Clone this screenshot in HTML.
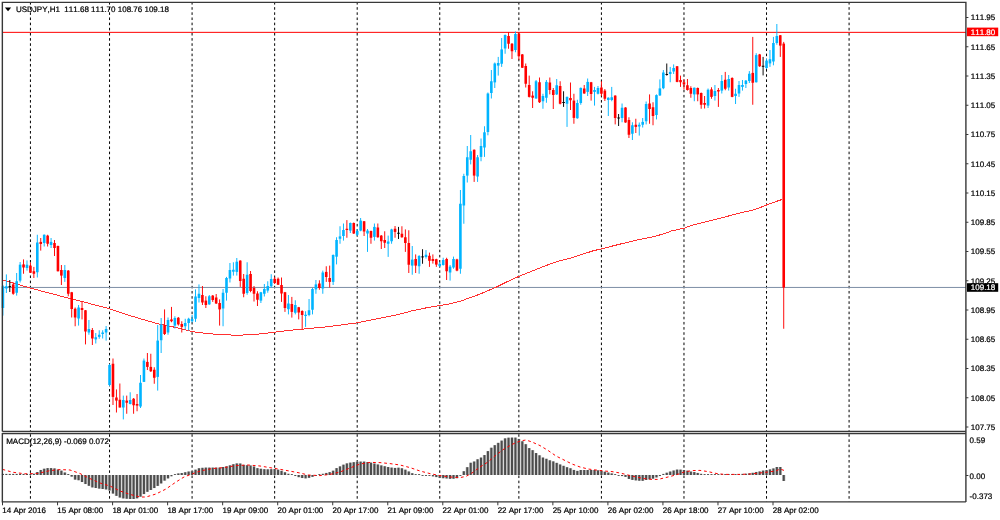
<!DOCTYPE html>
<html lang="en"><head><meta charset="utf-8"><title>USDJPY,H1</title>
<style>html,body{margin:0;padding:0;background:#fff;overflow:hidden}svg{display:block}text{font-family:"Liberation Sans",sans-serif;fill:#000;stroke:#000;stroke-width:0.22px;text-rendering:geometricPrecision;font-kerning:none}</style>
</head><body>
<svg width="1000" height="520" viewBox="0 0 1000 520">
<rect x="0" y="0" width="1000" height="520" fill="#ffffff"/>
<g stroke="#000" stroke-width="1" stroke-dasharray="2.58 2.58" fill="none">
<line x1="30.43" y1="2.0" x2="30.43" y2="431"/>
<line x1="30.43" y1="434.2" x2="30.43" y2="501.5"/>
<line x1="109.54" y1="2.0" x2="109.54" y2="431"/>
<line x1="109.54" y1="434.2" x2="109.54" y2="501.5"/>
<line x1="192.09" y1="2.0" x2="192.09" y2="431"/>
<line x1="192.09" y1="434.2" x2="192.09" y2="501.5"/>
<line x1="274.65" y1="2.0" x2="274.65" y2="431"/>
<line x1="274.65" y1="434.2" x2="274.65" y2="501.5"/>
<line x1="357.20" y1="2.0" x2="357.20" y2="431"/>
<line x1="357.20" y1="434.2" x2="357.20" y2="501.5"/>
<line x1="439.75" y1="2.0" x2="439.75" y2="431"/>
<line x1="439.75" y1="434.2" x2="439.75" y2="501.5"/>
<line x1="518.87" y1="2.0" x2="518.87" y2="431"/>
<line x1="518.87" y1="434.2" x2="518.87" y2="501.5"/>
<line x1="601.42" y1="2.0" x2="601.42" y2="431"/>
<line x1="601.42" y1="434.2" x2="601.42" y2="501.5"/>
<line x1="683.97" y1="2.0" x2="683.97" y2="431"/>
<line x1="683.97" y1="434.2" x2="683.97" y2="501.5"/>
<line x1="766.52" y1="2.0" x2="766.52" y2="431"/>
<line x1="766.52" y1="434.2" x2="766.52" y2="501.5"/>
<line x1="849.08" y1="2.0" x2="849.08" y2="431"/>
<line x1="849.08" y1="434.2" x2="849.08" y2="501.5"/>
</g>
<line x1="2.5" y1="32.35" x2="966" y2="32.35" stroke="#FF0000" stroke-width="1"/>
<line x1="2.5" y1="287.45" x2="966" y2="287.45" stroke="#7D8EA5" stroke-width="1"/>
<polyline points="2.0,279.7 30.4,288.1 60.0,295.9 85.0,302.3 109.6,308.8 125.0,314.1 145.0,320.1 160.0,324.3 170.0,326.2 185.0,329.7 192.2,331.6 205.0,333.3 220.0,334.7 238.0,335.2 252.0,334.7 262.0,333.7 274.5,332.2 290.0,330.3 302.0,329.2 329.0,326.6 357.2,322.8 380.0,318.3 400.0,314.1 412.5,310.7 425.0,308.1 439.8,305.6 450.0,303.8 460.0,301.3 470.0,297.7 480.0,294.1 487.5,290.9 496.2,287.2 506.2,282.2 518.8,276.4 532.5,270.9 545.0,265.9 557.5,261.4 570.0,258.3 582.5,254.3 592.5,251.0 601.5,248.8 613.8,245.7 626.2,242.6 635.0,240.4 645.0,238.5 655.0,236.3 665.5,233.3 671.5,230.9 683.8,228.3 692.5,225.2 707.5,221.3 722.5,217.6 737.5,213.6 752.5,210.1 760.0,207.6 766.8,204.9 775.0,201.9 782.0,199.5" fill="none" stroke="#FF3030" stroke-width="1" stroke-linejoin="round" shape-rendering="crispEdges"/>
<rect x="2.44" y="285.00" width="0.95" height="30.60" fill="#00B4FF"/>
<rect x="1.61" y="286.25" width="2.6" height="21.75" fill="#00B4FF"/>
<rect x="5.87" y="274.40" width="0.95" height="18.60" fill="#00B4FF"/>
<rect x="5.05" y="286.25" width="2.6" height="2.25" fill="#00B4FF"/>
<rect x="9.31" y="280.00" width="0.95" height="12.00" fill="#000000"/>
<rect x="8.49" y="286.00" width="2.6" height="0.90" fill="#000000"/>
<rect x="12.75" y="282.25" width="0.95" height="12.50" fill="#FF0000"/>
<rect x="11.93" y="284.40" width="2.6" height="9.35" fill="#FF0000"/>
<rect x="16.19" y="273.00" width="0.95" height="22.60" fill="#00B4FF"/>
<rect x="15.37" y="281.25" width="2.6" height="11.50" fill="#00B4FF"/>
<rect x="19.63" y="262.00" width="0.95" height="20.50" fill="#00B4FF"/>
<rect x="18.81" y="264.70" width="2.6" height="15.90" fill="#00B4FF"/>
<rect x="23.07" y="259.40" width="0.95" height="14.35" fill="#FF0000"/>
<rect x="22.25" y="264.40" width="2.6" height="3.10" fill="#FF0000"/>
<rect x="26.51" y="260.40" width="0.95" height="10.20" fill="#00B4FF"/>
<rect x="25.69" y="264.75" width="2.6" height="3.25" fill="#00B4FF"/>
<rect x="29.95" y="262.50" width="0.95" height="10.50" fill="#FF0000"/>
<rect x="29.13" y="265.60" width="2.6" height="7.15" fill="#FF0000"/>
<rect x="33.39" y="266.90" width="0.95" height="11.10" fill="#FF0000"/>
<rect x="32.57" y="271.25" width="2.6" height="2.50" fill="#FF0000"/>
<rect x="36.83" y="234.75" width="0.95" height="42.75" fill="#00B4FF"/>
<rect x="36.01" y="242.50" width="2.6" height="29.75" fill="#00B4FF"/>
<rect x="40.27" y="238.00" width="0.95" height="12.60" fill="#FF0000"/>
<rect x="39.45" y="241.90" width="2.6" height="2.10" fill="#FF0000"/>
<rect x="43.71" y="234.40" width="0.95" height="12.10" fill="#00B4FF"/>
<rect x="42.89" y="234.75" width="2.6" height="8.25" fill="#00B4FF"/>
<rect x="47.15" y="234.75" width="0.95" height="11.75" fill="#FF0000"/>
<rect x="46.33" y="235.60" width="2.6" height="8.15" fill="#FF0000"/>
<rect x="50.59" y="238.00" width="0.95" height="10.00" fill="#00B4FF"/>
<rect x="49.77" y="241.90" width="2.6" height="3.10" fill="#00B4FF"/>
<rect x="54.03" y="240.00" width="0.95" height="16.00" fill="#FF0000"/>
<rect x="53.21" y="243.00" width="2.6" height="5.00" fill="#FF0000"/>
<rect x="57.47" y="245.60" width="0.95" height="25.90" fill="#FF0000"/>
<rect x="56.65" y="246.00" width="2.6" height="25.25" fill="#FF0000"/>
<rect x="60.91" y="265.00" width="0.95" height="20.00" fill="#FF0000"/>
<rect x="60.08" y="270.00" width="2.6" height="5.60" fill="#FF0000"/>
<rect x="64.35" y="265.00" width="0.95" height="16.90" fill="#00B4FF"/>
<rect x="63.52" y="270.00" width="2.6" height="8.00" fill="#00B4FF"/>
<rect x="67.79" y="270.00" width="0.95" height="26.25" fill="#FF0000"/>
<rect x="66.96" y="270.60" width="2.6" height="23.15" fill="#FF0000"/>
<rect x="71.23" y="291.90" width="0.95" height="25.60" fill="#FF0000"/>
<rect x="70.40" y="292.25" width="2.6" height="16.75" fill="#FF0000"/>
<rect x="74.67" y="307.50" width="0.95" height="18.75" fill="#FF0000"/>
<rect x="73.84" y="308.75" width="2.6" height="8.75" fill="#FF0000"/>
<rect x="78.11" y="305.00" width="0.95" height="20.60" fill="#00B4FF"/>
<rect x="77.28" y="307.50" width="2.6" height="11.00" fill="#00B4FF"/>
<rect x="81.55" y="301.25" width="0.95" height="18.15" fill="#FF0000"/>
<rect x="80.72" y="308.00" width="2.6" height="2.00" fill="#FF0000"/>
<rect x="84.99" y="310.00" width="0.95" height="34.40" fill="#FF0000"/>
<rect x="84.16" y="310.25" width="2.6" height="21.25" fill="#FF0000"/>
<rect x="88.43" y="320.00" width="0.95" height="14.75" fill="#00B4FF"/>
<rect x="87.60" y="329.00" width="2.6" height="3.50" fill="#00B4FF"/>
<rect x="91.87" y="328.00" width="0.95" height="17.00" fill="#FF0000"/>
<rect x="91.04" y="330.00" width="2.6" height="8.50" fill="#FF0000"/>
<rect x="95.31" y="333.00" width="0.95" height="10.50" fill="#00B4FF"/>
<rect x="94.48" y="337.25" width="2.6" height="2.15" fill="#00B4FF"/>
<rect x="98.75" y="330.25" width="0.95" height="8.50" fill="#00B4FF"/>
<rect x="97.92" y="334.75" width="2.6" height="2.15" fill="#00B4FF"/>
<rect x="102.19" y="330.25" width="0.95" height="8.25" fill="#00B4FF"/>
<rect x="101.36" y="332.50" width="2.6" height="1.50" fill="#00B4FF"/>
<rect x="105.63" y="326.00" width="0.95" height="14.60" fill="#00B4FF"/>
<rect x="104.80" y="329.00" width="2.6" height="3.50" fill="#00B4FF"/>
<rect x="109.07" y="364.00" width="0.95" height="22.00" fill="#00B4FF"/>
<rect x="108.24" y="365.00" width="2.6" height="20.00" fill="#00B4FF"/>
<rect x="112.51" y="358.50" width="0.95" height="46.50" fill="#FF0000"/>
<rect x="111.68" y="363.75" width="2.6" height="33.15" fill="#FF0000"/>
<rect x="115.95" y="389.40" width="0.95" height="23.10" fill="#FF0000"/>
<rect x="115.12" y="397.50" width="2.6" height="3.10" fill="#FF0000"/>
<rect x="119.38" y="383.50" width="0.95" height="24.00" fill="#FF0000"/>
<rect x="118.56" y="399.75" width="2.6" height="7.75" fill="#FF0000"/>
<rect x="122.82" y="395.60" width="0.95" height="23.80" fill="#00B4FF"/>
<rect x="122.00" y="400.00" width="2.6" height="7.50" fill="#00B4FF"/>
<rect x="126.26" y="395.60" width="0.95" height="18.15" fill="#FF0000"/>
<rect x="125.44" y="400.60" width="2.6" height="2.15" fill="#FF0000"/>
<rect x="129.70" y="392.25" width="0.95" height="12.15" fill="#00B4FF"/>
<rect x="128.88" y="400.00" width="2.6" height="4.00" fill="#00B4FF"/>
<rect x="133.14" y="398.00" width="0.95" height="15.75" fill="#FF0000"/>
<rect x="132.32" y="398.75" width="2.6" height="6.50" fill="#FF0000"/>
<rect x="136.58" y="394.00" width="0.95" height="17.25" fill="#FF0000"/>
<rect x="135.76" y="404.00" width="2.6" height="1.60" fill="#FF0000"/>
<rect x="140.02" y="375.00" width="0.95" height="33.00" fill="#00B4FF"/>
<rect x="139.20" y="382.75" width="2.6" height="23.75" fill="#00B4FF"/>
<rect x="143.46" y="358.50" width="0.95" height="23.40" fill="#00B4FF"/>
<rect x="142.64" y="360.60" width="2.6" height="21.30" fill="#00B4FF"/>
<rect x="146.90" y="353.00" width="0.95" height="17.00" fill="#FF0000"/>
<rect x="146.08" y="361.90" width="2.6" height="5.00" fill="#FF0000"/>
<rect x="150.34" y="353.75" width="0.95" height="18.25" fill="#FF0000"/>
<rect x="149.52" y="366.90" width="2.6" height="4.35" fill="#FF0000"/>
<rect x="153.78" y="367.25" width="0.95" height="16.50" fill="#FF0000"/>
<rect x="152.96" y="369.75" width="2.6" height="8.00" fill="#FF0000"/>
<rect x="157.22" y="325.00" width="0.95" height="65.60" fill="#00B4FF"/>
<rect x="156.40" y="340.60" width="2.6" height="36.30" fill="#00B4FF"/>
<rect x="160.66" y="318.00" width="0.95" height="35.00" fill="#00B4FF"/>
<rect x="159.84" y="324.40" width="2.6" height="15.85" fill="#00B4FF"/>
<rect x="164.10" y="309.40" width="0.95" height="25.60" fill="#FF0000"/>
<rect x="163.28" y="325.00" width="2.6" height="9.00" fill="#FF0000"/>
<rect x="167.54" y="317.50" width="0.95" height="17.25" fill="#00B4FF"/>
<rect x="166.72" y="320.00" width="2.6" height="12.50" fill="#00B4FF"/>
<rect x="170.98" y="306.90" width="0.95" height="15.35" fill="#FF0000"/>
<rect x="170.16" y="319.40" width="2.6" height="1.85" fill="#FF0000"/>
<rect x="174.42" y="316.25" width="0.95" height="12.25" fill="#00B4FF"/>
<rect x="173.59" y="318.00" width="2.6" height="7.60" fill="#00B4FF"/>
<rect x="177.86" y="317.00" width="0.95" height="8.60" fill="#FF0000"/>
<rect x="177.03" y="317.75" width="2.6" height="6.65" fill="#FF0000"/>
<rect x="181.30" y="321.25" width="0.95" height="11.25" fill="#FF0000"/>
<rect x="180.47" y="324.00" width="2.6" height="2.90" fill="#FF0000"/>
<rect x="184.74" y="318.75" width="0.95" height="10.65" fill="#00B4FF"/>
<rect x="183.91" y="323.00" width="2.6" height="3.25" fill="#00B4FF"/>
<rect x="188.18" y="317.75" width="0.95" height="12.85" fill="#00B4FF"/>
<rect x="187.35" y="318.75" width="2.6" height="4.25" fill="#00B4FF"/>
<rect x="191.62" y="315.00" width="0.95" height="7.50" fill="#00B4FF"/>
<rect x="190.79" y="319.00" width="2.6" height="2.25" fill="#00B4FF"/>
<rect x="195.06" y="289.40" width="0.95" height="32.50" fill="#00B4FF"/>
<rect x="194.23" y="296.50" width="2.6" height="22.25" fill="#00B4FF"/>
<rect x="198.50" y="284.40" width="0.95" height="18.10" fill="#00B4FF"/>
<rect x="197.67" y="293.75" width="2.6" height="4.25" fill="#00B4FF"/>
<rect x="201.94" y="286.00" width="0.95" height="19.00" fill="#FF0000"/>
<rect x="201.11" y="295.00" width="2.6" height="7.50" fill="#FF0000"/>
<rect x="205.38" y="296.25" width="0.95" height="11.75" fill="#FF0000"/>
<rect x="204.55" y="300.60" width="2.6" height="4.40" fill="#FF0000"/>
<rect x="208.82" y="295.00" width="0.95" height="9.75" fill="#00B4FF"/>
<rect x="207.99" y="296.25" width="2.6" height="8.15" fill="#00B4FF"/>
<rect x="212.26" y="295.00" width="0.95" height="6.90" fill="#FF0000"/>
<rect x="211.43" y="295.60" width="2.6" height="4.40" fill="#FF0000"/>
<rect x="215.70" y="294.00" width="0.95" height="10.00" fill="#FF0000"/>
<rect x="214.87" y="297.50" width="2.6" height="6.00" fill="#FF0000"/>
<rect x="219.14" y="299.40" width="0.95" height="26.20" fill="#FF0000"/>
<rect x="218.31" y="303.00" width="2.6" height="6.40" fill="#FF0000"/>
<rect x="222.58" y="289.00" width="0.95" height="37.25" fill="#00B4FF"/>
<rect x="221.75" y="292.75" width="2.6" height="15.75" fill="#00B4FF"/>
<rect x="226.02" y="276.90" width="0.95" height="23.70" fill="#00B4FF"/>
<rect x="225.19" y="278.00" width="2.6" height="14.75" fill="#00B4FF"/>
<rect x="229.46" y="263.00" width="0.95" height="19.50" fill="#00B4FF"/>
<rect x="228.63" y="270.00" width="2.6" height="8.50" fill="#00B4FF"/>
<rect x="232.89" y="262.25" width="0.95" height="13.35" fill="#00B4FF"/>
<rect x="232.07" y="269.75" width="2.6" height="1.95" fill="#00B4FF"/>
<rect x="236.33" y="258.00" width="0.95" height="17.60" fill="#00B4FF"/>
<rect x="235.51" y="261.70" width="2.6" height="10.20" fill="#00B4FF"/>
<rect x="239.77" y="260.25" width="0.95" height="26.65" fill="#FF0000"/>
<rect x="238.95" y="260.60" width="2.6" height="20.40" fill="#FF0000"/>
<rect x="243.21" y="274.00" width="0.95" height="23.25" fill="#FF0000"/>
<rect x="242.39" y="278.75" width="2.6" height="15.00" fill="#FF0000"/>
<rect x="246.65" y="262.25" width="0.95" height="32.50" fill="#00B4FF"/>
<rect x="245.83" y="274.75" width="2.6" height="18.25" fill="#00B4FF"/>
<rect x="250.09" y="271.00" width="0.95" height="21.25" fill="#FF0000"/>
<rect x="249.27" y="274.00" width="2.6" height="17.00" fill="#FF0000"/>
<rect x="253.53" y="286.00" width="0.95" height="15.50" fill="#FF0000"/>
<rect x="252.71" y="288.00" width="2.6" height="5.75" fill="#FF0000"/>
<rect x="256.97" y="291.25" width="0.95" height="14.75" fill="#FF0000"/>
<rect x="256.15" y="293.50" width="2.6" height="6.25" fill="#FF0000"/>
<rect x="260.41" y="291.90" width="0.95" height="11.10" fill="#00B4FF"/>
<rect x="259.59" y="292.25" width="2.6" height="8.35" fill="#00B4FF"/>
<rect x="263.85" y="284.00" width="0.95" height="12.50" fill="#00B4FF"/>
<rect x="263.03" y="289.00" width="2.6" height="4.75" fill="#00B4FF"/>
<rect x="267.29" y="281.25" width="0.95" height="11.50" fill="#00B4FF"/>
<rect x="266.47" y="286.00" width="2.6" height="4.60" fill="#00B4FF"/>
<rect x="270.73" y="274.20" width="0.95" height="13.55" fill="#00B4FF"/>
<rect x="269.91" y="279.00" width="2.6" height="7.25" fill="#00B4FF"/>
<rect x="274.17" y="276.90" width="0.95" height="7.10" fill="#FF0000"/>
<rect x="273.35" y="278.75" width="2.6" height="4.25" fill="#FF0000"/>
<rect x="277.61" y="277.50" width="0.95" height="7.50" fill="#FF0000"/>
<rect x="276.79" y="278.75" width="2.6" height="6.00" fill="#FF0000"/>
<rect x="281.05" y="277.50" width="0.95" height="24.40" fill="#FF0000"/>
<rect x="280.23" y="285.00" width="2.6" height="8.50" fill="#FF0000"/>
<rect x="284.49" y="291.90" width="0.95" height="20.00" fill="#FF0000"/>
<rect x="283.67" y="292.25" width="2.6" height="15.75" fill="#FF0000"/>
<rect x="287.93" y="295.00" width="0.95" height="19.40" fill="#00B4FF"/>
<rect x="287.11" y="303.50" width="2.6" height="5.70" fill="#00B4FF"/>
<rect x="291.37" y="296.90" width="0.95" height="20.70" fill="#FF0000"/>
<rect x="290.54" y="304.00" width="2.6" height="7.90" fill="#FF0000"/>
<rect x="294.81" y="300.25" width="0.95" height="14.15" fill="#00B4FF"/>
<rect x="293.98" y="305.00" width="2.6" height="7.75" fill="#00B4FF"/>
<rect x="298.25" y="306.90" width="0.95" height="12.50" fill="#FF0000"/>
<rect x="297.42" y="307.25" width="2.6" height="5.25" fill="#FF0000"/>
<rect x="301.69" y="310.25" width="0.95" height="19.15" fill="#FF0000"/>
<rect x="300.86" y="311.00" width="2.6" height="4.00" fill="#FF0000"/>
<rect x="305.13" y="311.25" width="0.95" height="15.65" fill="#00B4FF"/>
<rect x="304.30" y="314.75" width="2.6" height="1.25" fill="#00B4FF"/>
<rect x="308.57" y="299.00" width="0.95" height="17.25" fill="#00B4FF"/>
<rect x="307.74" y="310.25" width="2.6" height="4.75" fill="#00B4FF"/>
<rect x="312.01" y="288.00" width="0.95" height="26.40" fill="#00B4FF"/>
<rect x="311.18" y="289.00" width="2.6" height="20.75" fill="#00B4FF"/>
<rect x="315.45" y="280.00" width="0.95" height="13.75" fill="#00B4FF"/>
<rect x="314.62" y="284.40" width="2.6" height="5.00" fill="#00B4FF"/>
<rect x="318.89" y="280.25" width="0.95" height="9.50" fill="#FF0000"/>
<rect x="318.06" y="283.50" width="2.6" height="4.50" fill="#FF0000"/>
<rect x="322.33" y="270.60" width="0.95" height="23.15" fill="#00B4FF"/>
<rect x="321.50" y="272.50" width="2.6" height="16.00" fill="#00B4FF"/>
<rect x="325.77" y="266.25" width="0.95" height="15.65" fill="#FF0000"/>
<rect x="324.94" y="271.90" width="2.6" height="5.10" fill="#FF0000"/>
<rect x="329.21" y="265.60" width="0.95" height="21.90" fill="#FF0000"/>
<rect x="328.38" y="278.00" width="2.6" height="3.90" fill="#FF0000"/>
<rect x="332.65" y="254.40" width="0.95" height="30.60" fill="#00B4FF"/>
<rect x="331.82" y="255.00" width="2.6" height="26.90" fill="#00B4FF"/>
<rect x="336.09" y="237.25" width="0.95" height="27.15" fill="#00B4FF"/>
<rect x="335.26" y="240.00" width="2.6" height="16.70" fill="#00B4FF"/>
<rect x="339.53" y="226.25" width="0.95" height="17.50" fill="#00B4FF"/>
<rect x="338.70" y="236.40" width="2.6" height="2.35" fill="#00B4FF"/>
<rect x="342.97" y="223.50" width="0.95" height="17.10" fill="#00B4FF"/>
<rect x="342.14" y="230.00" width="2.6" height="6.00" fill="#00B4FF"/>
<rect x="346.41" y="220.10" width="0.95" height="17.65" fill="#FF0000"/>
<rect x="345.58" y="228.75" width="2.6" height="1.25" fill="#FF0000"/>
<rect x="349.84" y="222.50" width="0.95" height="10.50" fill="#00B4FF"/>
<rect x="349.02" y="223.00" width="2.6" height="7.60" fill="#00B4FF"/>
<rect x="353.28" y="222.50" width="0.95" height="11.50" fill="#FF0000"/>
<rect x="352.46" y="223.00" width="2.6" height="10.50" fill="#FF0000"/>
<rect x="356.72" y="229.00" width="0.95" height="7.00" fill="#00B4FF"/>
<rect x="355.90" y="231.00" width="2.6" height="3.75" fill="#00B4FF"/>
<rect x="360.16" y="218.00" width="0.95" height="13.25" fill="#00B4FF"/>
<rect x="359.34" y="220.60" width="2.6" height="10.00" fill="#00B4FF"/>
<rect x="363.60" y="221.00" width="0.95" height="15.00" fill="#FF0000"/>
<rect x="362.78" y="221.25" width="2.6" height="10.25" fill="#FF0000"/>
<rect x="367.04" y="229.00" width="0.95" height="22.90" fill="#00B4FF"/>
<rect x="366.22" y="230.60" width="2.6" height="2.90" fill="#00B4FF"/>
<rect x="370.48" y="230.60" width="0.95" height="13.15" fill="#FF0000"/>
<rect x="369.66" y="231.00" width="2.6" height="6.75" fill="#FF0000"/>
<rect x="373.92" y="223.50" width="0.95" height="17.10" fill="#00B4FF"/>
<rect x="373.10" y="226.90" width="2.6" height="10.00" fill="#00B4FF"/>
<rect x="377.36" y="223.50" width="0.95" height="14.25" fill="#FF0000"/>
<rect x="376.54" y="227.50" width="2.6" height="9.75" fill="#FF0000"/>
<rect x="380.80" y="235.00" width="0.95" height="14.00" fill="#FF0000"/>
<rect x="379.98" y="235.60" width="2.6" height="5.65" fill="#FF0000"/>
<rect x="384.24" y="231.25" width="0.95" height="16.75" fill="#FF0000"/>
<rect x="383.42" y="240.00" width="2.6" height="2.75" fill="#FF0000"/>
<rect x="387.68" y="235.60" width="0.95" height="21.30" fill="#00B4FF"/>
<rect x="386.86" y="241.50" width="2.6" height="2.25" fill="#00B4FF"/>
<rect x="391.12" y="228.75" width="0.95" height="15.00" fill="#00B4FF"/>
<rect x="390.30" y="229.40" width="2.6" height="11.85" fill="#00B4FF"/>
<rect x="394.56" y="226.00" width="0.95" height="11.75" fill="#FF0000"/>
<rect x="393.74" y="228.75" width="2.6" height="3.15" fill="#FF0000"/>
<rect x="398.00" y="226.90" width="0.95" height="12.10" fill="#000000"/>
<rect x="397.18" y="232.75" width="2.6" height="1.00" fill="#000000"/>
<rect x="401.44" y="226.25" width="0.95" height="11.50" fill="#FF0000"/>
<rect x="400.62" y="233.75" width="2.6" height="3.50" fill="#FF0000"/>
<rect x="404.88" y="229.40" width="0.95" height="22.50" fill="#FF0000"/>
<rect x="404.05" y="237.25" width="2.6" height="5.75" fill="#FF0000"/>
<rect x="408.32" y="230.25" width="0.95" height="42.75" fill="#FF0000"/>
<rect x="407.49" y="243.00" width="2.6" height="21.75" fill="#FF0000"/>
<rect x="411.76" y="246.00" width="0.95" height="28.75" fill="#00B4FF"/>
<rect x="410.93" y="259.60" width="2.6" height="6.00" fill="#00B4FF"/>
<rect x="415.20" y="254.40" width="0.95" height="18.60" fill="#FF0000"/>
<rect x="414.37" y="259.00" width="2.6" height="6.60" fill="#FF0000"/>
<rect x="418.64" y="255.10" width="0.95" height="18.65" fill="#00B4FF"/>
<rect x="417.81" y="256.00" width="2.6" height="10.25" fill="#00B4FF"/>
<rect x="422.08" y="249.20" width="0.95" height="14.55" fill="#000000"/>
<rect x="421.25" y="256.40" width="2.6" height="1.00" fill="#000000"/>
<rect x="425.52" y="250.10" width="0.95" height="8.50" fill="#00B4FF"/>
<rect x="424.69" y="254.75" width="2.6" height="2.25" fill="#00B4FF"/>
<rect x="428.96" y="252.60" width="0.95" height="14.30" fill="#FF0000"/>
<rect x="428.13" y="255.80" width="2.6" height="5.00" fill="#FF0000"/>
<rect x="432.40" y="254.40" width="0.95" height="9.20" fill="#FF0000"/>
<rect x="431.57" y="259.00" width="2.6" height="2.00" fill="#FF0000"/>
<rect x="435.84" y="258.75" width="0.95" height="8.15" fill="#FF0000"/>
<rect x="435.01" y="259.20" width="2.6" height="5.40" fill="#FF0000"/>
<rect x="439.28" y="262.00" width="0.95" height="5.00" fill="#00B4FF"/>
<rect x="438.45" y="263.75" width="2.6" height="2.35" fill="#00B4FF"/>
<rect x="442.72" y="257.75" width="0.95" height="7.85" fill="#00B4FF"/>
<rect x="441.89" y="260.00" width="2.6" height="5.00" fill="#00B4FF"/>
<rect x="446.16" y="257.75" width="0.95" height="22.25" fill="#FF0000"/>
<rect x="445.33" y="259.00" width="2.6" height="12.25" fill="#FF0000"/>
<rect x="449.60" y="265.00" width="0.95" height="15.60" fill="#00B4FF"/>
<rect x="448.77" y="266.60" width="2.6" height="5.90" fill="#00B4FF"/>
<rect x="453.04" y="256.60" width="0.95" height="12.15" fill="#00B4FF"/>
<rect x="452.21" y="259.00" width="2.6" height="8.50" fill="#00B4FF"/>
<rect x="456.48" y="258.75" width="0.95" height="12.50" fill="#FF0000"/>
<rect x="455.65" y="259.40" width="2.6" height="11.20" fill="#FF0000"/>
<rect x="459.92" y="190.00" width="0.95" height="83.75" fill="#00B4FF"/>
<rect x="459.09" y="203.75" width="2.6" height="65.00" fill="#00B4FF"/>
<rect x="463.35" y="173.75" width="0.95" height="50.00" fill="#00B4FF"/>
<rect x="462.53" y="176.00" width="2.6" height="29.50" fill="#00B4FF"/>
<rect x="466.79" y="146.00" width="0.95" height="36.50" fill="#00B4FF"/>
<rect x="465.97" y="157.25" width="2.6" height="18.35" fill="#00B4FF"/>
<rect x="470.23" y="135.00" width="0.95" height="29.40" fill="#00B4FF"/>
<rect x="469.41" y="151.25" width="2.6" height="8.50" fill="#00B4FF"/>
<rect x="473.67" y="149.40" width="0.95" height="32.50" fill="#FF0000"/>
<rect x="472.85" y="149.75" width="2.6" height="25.85" fill="#FF0000"/>
<rect x="477.11" y="155.00" width="0.95" height="26.90" fill="#00B4FF"/>
<rect x="476.29" y="157.25" width="2.6" height="19.25" fill="#00B4FF"/>
<rect x="480.55" y="138.50" width="0.95" height="22.75" fill="#00B4FF"/>
<rect x="479.73" y="146.00" width="2.6" height="10.90" fill="#00B4FF"/>
<rect x="483.99" y="126.25" width="0.95" height="30.65" fill="#00B4FF"/>
<rect x="483.17" y="132.30" width="2.6" height="15.20" fill="#00B4FF"/>
<rect x="487.43" y="92.50" width="0.95" height="42.80" fill="#00B4FF"/>
<rect x="486.61" y="93.50" width="2.6" height="38.50" fill="#00B4FF"/>
<rect x="490.87" y="70.00" width="0.95" height="28.50" fill="#00B4FF"/>
<rect x="490.05" y="81.25" width="2.6" height="11.75" fill="#00B4FF"/>
<rect x="494.31" y="62.50" width="0.95" height="25.50" fill="#00B4FF"/>
<rect x="493.49" y="63.50" width="2.6" height="18.90" fill="#00B4FF"/>
<rect x="497.75" y="56.90" width="0.95" height="18.70" fill="#00B4FF"/>
<rect x="496.93" y="63.00" width="2.6" height="2.60" fill="#00B4FF"/>
<rect x="501.19" y="38.00" width="0.95" height="28.90" fill="#00B4FF"/>
<rect x="500.37" y="49.40" width="2.6" height="14.35" fill="#00B4FF"/>
<rect x="504.63" y="34.40" width="0.95" height="19.35" fill="#00B4FF"/>
<rect x="503.81" y="35.00" width="2.6" height="13.50" fill="#00B4FF"/>
<rect x="508.07" y="32.00" width="0.95" height="16.75" fill="#FF0000"/>
<rect x="507.25" y="36.00" width="2.6" height="7.75" fill="#FF0000"/>
<rect x="511.51" y="43.00" width="0.95" height="16.00" fill="#FF0000"/>
<rect x="510.69" y="43.75" width="2.6" height="7.50" fill="#FF0000"/>
<rect x="514.95" y="31.50" width="0.95" height="20.75" fill="#00B4FF"/>
<rect x="514.13" y="34.00" width="2.6" height="16.00" fill="#00B4FF"/>
<rect x="518.39" y="32.25" width="0.95" height="27.75" fill="#FF0000"/>
<rect x="517.57" y="33.75" width="2.6" height="22.50" fill="#FF0000"/>
<rect x="521.83" y="54.00" width="0.95" height="14.00" fill="#FF0000"/>
<rect x="521.00" y="54.40" width="2.6" height="13.35" fill="#FF0000"/>
<rect x="525.27" y="63.50" width="0.95" height="24.00" fill="#FF0000"/>
<rect x="524.44" y="66.00" width="2.6" height="17.75" fill="#FF0000"/>
<rect x="528.71" y="75.60" width="0.95" height="21.90" fill="#FF0000"/>
<rect x="527.88" y="85.00" width="2.6" height="11.90" fill="#FF0000"/>
<rect x="532.15" y="91.25" width="0.95" height="16.75" fill="#FF0000"/>
<rect x="531.32" y="95.60" width="2.6" height="2.15" fill="#FF0000"/>
<rect x="535.59" y="80.00" width="0.95" height="18.75" fill="#00B4FF"/>
<rect x="534.76" y="81.25" width="2.6" height="17.25" fill="#00B4FF"/>
<rect x="539.03" y="77.50" width="0.95" height="25.50" fill="#FF0000"/>
<rect x="538.20" y="82.25" width="2.6" height="20.00" fill="#FF0000"/>
<rect x="542.47" y="93.75" width="0.95" height="15.00" fill="#00B4FF"/>
<rect x="541.64" y="96.00" width="2.6" height="5.25" fill="#00B4FF"/>
<rect x="545.91" y="80.00" width="0.95" height="22.75" fill="#00B4FF"/>
<rect x="545.08" y="81.90" width="2.6" height="15.85" fill="#00B4FF"/>
<rect x="549.35" y="77.50" width="0.95" height="16.90" fill="#FF0000"/>
<rect x="548.52" y="82.50" width="2.6" height="7.50" fill="#FF0000"/>
<rect x="552.79" y="88.00" width="0.95" height="21.00" fill="#FF0000"/>
<rect x="551.96" y="90.00" width="2.6" height="5.00" fill="#FF0000"/>
<rect x="556.23" y="79.00" width="0.95" height="16.00" fill="#00B4FF"/>
<rect x="555.40" y="85.25" width="2.6" height="9.15" fill="#00B4FF"/>
<rect x="559.67" y="81.25" width="0.95" height="23.15" fill="#FF0000"/>
<rect x="558.84" y="86.00" width="2.6" height="17.75" fill="#FF0000"/>
<rect x="563.11" y="91.25" width="0.95" height="15.65" fill="#000000"/>
<rect x="562.28" y="102.00" width="2.6" height="1.00" fill="#000000"/>
<rect x="566.55" y="96.50" width="0.95" height="30.40" fill="#00B4FF"/>
<rect x="565.72" y="96.90" width="2.6" height="6.85" fill="#00B4FF"/>
<rect x="569.99" y="82.50" width="0.95" height="27.50" fill="#FF0000"/>
<rect x="569.16" y="98.00" width="2.6" height="2.25" fill="#FF0000"/>
<rect x="573.43" y="93.75" width="0.95" height="30.00" fill="#FF0000"/>
<rect x="572.60" y="100.60" width="2.6" height="17.30" fill="#FF0000"/>
<rect x="576.86" y="99.75" width="0.95" height="19.00" fill="#00B4FF"/>
<rect x="576.04" y="103.00" width="2.6" height="15.25" fill="#00B4FF"/>
<rect x="580.30" y="87.50" width="0.95" height="17.25" fill="#00B4FF"/>
<rect x="579.48" y="87.90" width="2.6" height="15.10" fill="#00B4FF"/>
<rect x="583.74" y="85.00" width="0.95" height="8.75" fill="#FF0000"/>
<rect x="582.92" y="88.50" width="2.6" height="5.00" fill="#FF0000"/>
<rect x="587.18" y="78.50" width="0.95" height="17.50" fill="#00B4FF"/>
<rect x="586.36" y="81.90" width="2.6" height="10.00" fill="#00B4FF"/>
<rect x="590.62" y="81.90" width="0.95" height="18.70" fill="#FF0000"/>
<rect x="589.80" y="82.25" width="2.6" height="11.75" fill="#FF0000"/>
<rect x="594.06" y="86.90" width="0.95" height="18.70" fill="#00B4FF"/>
<rect x="593.24" y="90.00" width="2.6" height="1.90" fill="#00B4FF"/>
<rect x="597.50" y="86.00" width="0.95" height="8.40" fill="#00B4FF"/>
<rect x="596.68" y="88.00" width="2.6" height="5.75" fill="#00B4FF"/>
<rect x="600.94" y="81.25" width="0.95" height="14.75" fill="#FF0000"/>
<rect x="600.12" y="87.50" width="2.6" height="6.25" fill="#FF0000"/>
<rect x="604.38" y="89.00" width="0.95" height="12.00" fill="#FF0000"/>
<rect x="603.56" y="90.60" width="2.6" height="8.15" fill="#FF0000"/>
<rect x="607.82" y="97.25" width="0.95" height="18.75" fill="#00B4FF"/>
<rect x="607.00" y="97.75" width="2.6" height="2.25" fill="#00B4FF"/>
<rect x="611.26" y="86.90" width="0.95" height="14.35" fill="#00B4FF"/>
<rect x="610.44" y="97.25" width="2.6" height="2.75" fill="#00B4FF"/>
<rect x="614.70" y="95.25" width="0.95" height="29.15" fill="#FF0000"/>
<rect x="613.88" y="95.60" width="2.6" height="22.40" fill="#FF0000"/>
<rect x="618.14" y="114.00" width="0.95" height="12.00" fill="#000000"/>
<rect x="617.32" y="117.50" width="2.6" height="1.00" fill="#000000"/>
<rect x="621.58" y="103.50" width="0.95" height="18.75" fill="#00B4FF"/>
<rect x="620.76" y="107.75" width="2.6" height="10.25" fill="#00B4FF"/>
<rect x="625.02" y="107.25" width="0.95" height="15.50" fill="#FF0000"/>
<rect x="624.20" y="107.50" width="2.6" height="15.00" fill="#FF0000"/>
<rect x="628.46" y="117.25" width="0.95" height="20.75" fill="#FF0000"/>
<rect x="627.64" y="120.00" width="2.6" height="14.75" fill="#FF0000"/>
<rect x="631.90" y="122.25" width="0.95" height="17.75" fill="#00B4FF"/>
<rect x="631.08" y="125.25" width="2.6" height="8.50" fill="#00B4FF"/>
<rect x="635.34" y="118.75" width="0.95" height="14.25" fill="#FF0000"/>
<rect x="634.51" y="124.75" width="2.6" height="2.15" fill="#FF0000"/>
<rect x="638.78" y="122.50" width="0.95" height="13.10" fill="#00B4FF"/>
<rect x="637.95" y="124.75" width="2.6" height="1.75" fill="#00B4FF"/>
<rect x="642.22" y="118.00" width="0.95" height="9.50" fill="#00B4FF"/>
<rect x="641.39" y="121.90" width="2.6" height="2.85" fill="#00B4FF"/>
<rect x="645.66" y="101.50" width="0.95" height="22.90" fill="#00B4FF"/>
<rect x="644.83" y="104.00" width="2.6" height="17.25" fill="#00B4FF"/>
<rect x="649.10" y="94.40" width="0.95" height="29.35" fill="#FF0000"/>
<rect x="648.27" y="103.50" width="2.6" height="5.50" fill="#FF0000"/>
<rect x="652.54" y="102.25" width="0.95" height="23.00" fill="#FF0000"/>
<rect x="651.71" y="107.25" width="2.6" height="8.75" fill="#FF0000"/>
<rect x="655.98" y="94.40" width="0.95" height="25.00" fill="#00B4FF"/>
<rect x="655.15" y="95.10" width="2.6" height="19.90" fill="#00B4FF"/>
<rect x="659.42" y="79.40" width="0.95" height="16.60" fill="#00B4FF"/>
<rect x="658.59" y="88.40" width="2.6" height="7.00" fill="#00B4FF"/>
<rect x="662.86" y="70.00" width="0.95" height="19.20" fill="#00B4FF"/>
<rect x="662.03" y="72.50" width="2.6" height="15.70" fill="#00B4FF"/>
<rect x="666.30" y="63.50" width="0.95" height="12.10" fill="#000000"/>
<rect x="665.47" y="74.00" width="2.6" height="1.00" fill="#000000"/>
<rect x="669.74" y="66.90" width="0.95" height="15.35" fill="#00B4FF"/>
<rect x="668.91" y="71.90" width="2.6" height="2.10" fill="#00B4FF"/>
<rect x="673.18" y="64.40" width="0.95" height="9.60" fill="#00B4FF"/>
<rect x="672.35" y="68.00" width="2.6" height="3.50" fill="#00B4FF"/>
<rect x="676.62" y="66.00" width="0.95" height="16.25" fill="#FF0000"/>
<rect x="675.79" y="66.25" width="2.6" height="15.65" fill="#FF0000"/>
<rect x="680.06" y="75.60" width="0.95" height="11.30" fill="#FF0000"/>
<rect x="679.23" y="80.00" width="2.6" height="2.25" fill="#FF0000"/>
<rect x="683.50" y="79.40" width="0.95" height="10.00" fill="#FF0000"/>
<rect x="682.67" y="82.25" width="2.6" height="2.15" fill="#FF0000"/>
<rect x="686.94" y="79.00" width="0.95" height="11.60" fill="#FF0000"/>
<rect x="686.11" y="85.25" width="2.6" height="4.75" fill="#FF0000"/>
<rect x="690.38" y="86.25" width="0.95" height="11.50" fill="#FF0000"/>
<rect x="689.55" y="88.00" width="2.6" height="5.75" fill="#FF0000"/>
<rect x="693.81" y="87.50" width="0.95" height="13.75" fill="#00B4FF"/>
<rect x="692.99" y="87.75" width="2.6" height="6.65" fill="#00B4FF"/>
<rect x="697.25" y="87.50" width="0.95" height="13.75" fill="#FF0000"/>
<rect x="696.43" y="88.00" width="2.6" height="6.40" fill="#FF0000"/>
<rect x="700.69" y="92.50" width="0.95" height="16.25" fill="#FF0000"/>
<rect x="699.87" y="93.00" width="2.6" height="11.75" fill="#FF0000"/>
<rect x="704.13" y="96.00" width="0.95" height="12.50" fill="#FF0000"/>
<rect x="703.31" y="103.00" width="2.6" height="1.75" fill="#FF0000"/>
<rect x="707.57" y="88.50" width="0.95" height="19.50" fill="#00B4FF"/>
<rect x="706.75" y="89.75" width="2.6" height="15.85" fill="#00B4FF"/>
<rect x="711.01" y="87.25" width="0.95" height="11.50" fill="#FF0000"/>
<rect x="710.19" y="89.40" width="2.6" height="7.50" fill="#FF0000"/>
<rect x="714.45" y="85.00" width="0.95" height="15.60" fill="#00B4FF"/>
<rect x="713.63" y="91.00" width="2.6" height="5.00" fill="#00B4FF"/>
<rect x="717.89" y="88.00" width="0.95" height="18.90" fill="#FF0000"/>
<rect x="717.07" y="90.00" width="2.6" height="1.50" fill="#FF0000"/>
<rect x="721.33" y="75.00" width="0.95" height="18.50" fill="#00B4FF"/>
<rect x="720.51" y="81.00" width="2.6" height="9.60" fill="#00B4FF"/>
<rect x="724.77" y="71.90" width="0.95" height="18.35" fill="#FF0000"/>
<rect x="723.95" y="79.75" width="2.6" height="9.00" fill="#FF0000"/>
<rect x="728.21" y="75.00" width="0.95" height="15.60" fill="#00B4FF"/>
<rect x="727.39" y="79.00" width="2.6" height="8.50" fill="#00B4FF"/>
<rect x="731.65" y="77.25" width="0.95" height="20.00" fill="#FF0000"/>
<rect x="730.83" y="78.00" width="2.6" height="18.90" fill="#FF0000"/>
<rect x="735.09" y="88.75" width="0.95" height="15.25" fill="#00B4FF"/>
<rect x="734.27" y="93.75" width="2.6" height="2.25" fill="#00B4FF"/>
<rect x="738.53" y="81.00" width="0.95" height="15.90" fill="#00B4FF"/>
<rect x="737.71" y="85.00" width="2.6" height="8.50" fill="#00B4FF"/>
<rect x="741.97" y="80.00" width="0.95" height="10.60" fill="#00B4FF"/>
<rect x="741.15" y="85.00" width="2.6" height="1.90" fill="#00B4FF"/>
<rect x="745.41" y="80.00" width="0.95" height="8.00" fill="#00B4FF"/>
<rect x="744.59" y="80.60" width="2.6" height="3.40" fill="#00B4FF"/>
<rect x="748.85" y="71.10" width="0.95" height="11.90" fill="#00B4FF"/>
<rect x="748.02" y="73.75" width="2.6" height="7.25" fill="#00B4FF"/>
<rect x="752.29" y="36.90" width="0.95" height="67.85" fill="#FF0000"/>
<rect x="751.46" y="72.90" width="2.6" height="9.85" fill="#FF0000"/>
<rect x="755.73" y="53.20" width="0.95" height="29.30" fill="#00B4FF"/>
<rect x="754.90" y="55.10" width="2.6" height="27.15" fill="#00B4FF"/>
<rect x="759.17" y="53.90" width="0.95" height="13.00" fill="#FF0000"/>
<rect x="758.34" y="54.40" width="2.6" height="11.85" fill="#FF0000"/>
<rect x="762.61" y="56.90" width="0.95" height="18.50" fill="#000000"/>
<rect x="761.78" y="65.75" width="2.6" height="1.00" fill="#000000"/>
<rect x="766.05" y="58.50" width="0.95" height="10.50" fill="#00B4FF"/>
<rect x="765.22" y="60.60" width="2.6" height="7.40" fill="#00B4FF"/>
<rect x="769.49" y="50.00" width="0.95" height="16.90" fill="#00B4FF"/>
<rect x="768.66" y="59.20" width="2.6" height="4.20" fill="#00B4FF"/>
<rect x="772.93" y="36.90" width="0.95" height="28.40" fill="#00B4FF"/>
<rect x="772.10" y="43.00" width="2.6" height="18.50" fill="#00B4FF"/>
<rect x="776.37" y="24.00" width="0.95" height="20.75" fill="#00B4FF"/>
<rect x="775.54" y="36.00" width="2.6" height="7.00" fill="#00B4FF"/>
<rect x="779.81" y="35.00" width="0.95" height="21.90" fill="#FF0000"/>
<rect x="778.98" y="35.25" width="2.6" height="10.35" fill="#FF0000"/>
<rect x="783.25" y="41.90" width="0.95" height="286.85" fill="#FF0000"/>
<rect x="782.42" y="43.60" width="2.6" height="243.90" fill="#FF0000"/>
<g fill="#cdcdcd">
<rect x="35.59" y="472.00" width="3.440" height="3.00"/>
<rect x="39.03" y="469.98" width="3.440" height="5.02"/>
<rect x="42.47" y="468.73" width="3.440" height="6.27"/>
<rect x="45.91" y="468.10" width="3.440" height="6.90"/>
<rect x="49.35" y="468.11" width="3.440" height="6.89"/>
<rect x="52.79" y="468.40" width="3.440" height="6.60"/>
<rect x="56.23" y="469.61" width="3.440" height="5.39"/>
<rect x="59.67" y="470.65" width="3.440" height="4.35"/>
<rect x="63.10" y="472.51" width="3.440" height="2.49"/>
<rect x="69.98" y="475.00" width="3.440" height="1.59"/>
<rect x="73.42" y="475.00" width="3.440" height="4.61"/>
<rect x="76.86" y="475.00" width="3.440" height="5.24"/>
<rect x="80.30" y="475.00" width="3.440" height="7.01"/>
<rect x="83.74" y="475.00" width="3.440" height="9.03"/>
<rect x="87.18" y="475.00" width="3.440" height="10.80"/>
<rect x="90.62" y="475.00" width="3.440" height="12.41"/>
<rect x="94.06" y="475.00" width="3.440" height="13.01"/>
<rect x="97.50" y="475.00" width="3.440" height="13.61"/>
<rect x="100.94" y="475.00" width="3.440" height="14.01"/>
<rect x="104.38" y="475.00" width="3.440" height="14.43"/>
<rect x="107.82" y="475.00" width="3.440" height="15.54"/>
<rect x="111.26" y="475.00" width="3.440" height="18.55"/>
<rect x="114.70" y="475.00" width="3.440" height="20.86"/>
<rect x="118.14" y="475.00" width="3.440" height="22.52"/>
<rect x="121.58" y="475.00" width="3.440" height="23.41"/>
<rect x="125.02" y="475.00" width="3.440" height="23.74"/>
<rect x="128.46" y="475.00" width="3.440" height="24.00"/>
<rect x="131.90" y="475.00" width="3.440" height="24.00"/>
<rect x="135.34" y="475.00" width="3.440" height="23.31"/>
<rect x="138.78" y="475.00" width="3.440" height="21.67"/>
<rect x="142.22" y="475.00" width="3.440" height="19.05"/>
<rect x="145.66" y="475.00" width="3.440" height="16.80"/>
<rect x="149.10" y="475.00" width="3.440" height="14.99"/>
<rect x="152.54" y="475.00" width="3.440" height="13.05"/>
<rect x="155.98" y="475.00" width="3.440" height="10.90"/>
<rect x="159.42" y="475.00" width="3.440" height="8.43"/>
<rect x="162.86" y="475.00" width="3.440" height="5.63"/>
<rect x="166.30" y="475.00" width="3.440" height="3.39"/>
<rect x="176.61" y="473.44" width="3.440" height="1.56"/>
<rect x="180.05" y="473.03" width="3.440" height="1.97"/>
<rect x="183.49" y="472.25" width="3.440" height="2.75"/>
<rect x="186.93" y="471.52" width="3.440" height="3.48"/>
<rect x="190.37" y="471.11" width="3.440" height="3.89"/>
<rect x="193.81" y="469.68" width="3.440" height="5.32"/>
<rect x="197.25" y="468.27" width="3.440" height="6.73"/>
<rect x="200.69" y="467.81" width="3.440" height="7.19"/>
<rect x="204.13" y="467.60" width="3.440" height="7.40"/>
<rect x="207.57" y="467.60" width="3.440" height="7.40"/>
<rect x="211.01" y="467.60" width="3.440" height="7.40"/>
<rect x="214.45" y="467.60" width="3.440" height="7.40"/>
<rect x="217.89" y="467.60" width="3.440" height="7.40"/>
<rect x="221.33" y="466.99" width="3.440" height="8.01"/>
<rect x="224.77" y="466.30" width="3.440" height="8.70"/>
<rect x="228.21" y="465.36" width="3.440" height="9.64"/>
<rect x="231.65" y="464.21" width="3.440" height="10.79"/>
<rect x="235.09" y="463.44" width="3.440" height="11.56"/>
<rect x="238.53" y="463.50" width="3.440" height="11.50"/>
<rect x="241.97" y="464.88" width="3.440" height="10.12"/>
<rect x="245.41" y="465.23" width="3.440" height="9.77"/>
<rect x="248.85" y="465.49" width="3.440" height="9.51"/>
<rect x="252.29" y="466.54" width="3.440" height="8.46"/>
<rect x="255.73" y="468.14" width="3.440" height="6.86"/>
<rect x="259.17" y="468.76" width="3.440" height="6.24"/>
<rect x="262.61" y="469.19" width="3.440" height="5.81"/>
<rect x="266.05" y="469.33" width="3.440" height="5.67"/>
<rect x="269.49" y="469.19" width="3.440" height="5.81"/>
<rect x="272.93" y="469.05" width="3.440" height="5.95"/>
<rect x="276.37" y="469.70" width="3.440" height="5.30"/>
<rect x="279.81" y="470.84" width="3.440" height="4.16"/>
<rect x="283.25" y="472.29" width="3.440" height="2.71"/>
<rect x="297.00" y="475.00" width="3.440" height="2.17"/>
<rect x="300.44" y="475.00" width="3.440" height="3.02"/>
<rect x="303.88" y="475.00" width="3.440" height="3.36"/>
<rect x="307.32" y="475.00" width="3.440" height="2.79"/>
<rect x="310.76" y="475.00" width="3.440" height="1.86"/>
<rect x="324.52" y="472.94" width="3.440" height="2.06"/>
<rect x="327.96" y="472.14" width="3.440" height="2.86"/>
<rect x="331.40" y="470.70" width="3.440" height="4.30"/>
<rect x="334.84" y="468.12" width="3.440" height="6.88"/>
<rect x="338.28" y="466.40" width="3.440" height="8.60"/>
<rect x="341.72" y="464.68" width="3.440" height="10.32"/>
<rect x="345.16" y="463.39" width="3.440" height="11.61"/>
<rect x="348.60" y="462.65" width="3.440" height="12.35"/>
<rect x="352.04" y="462.17" width="3.440" height="12.83"/>
<rect x="355.48" y="461.71" width="3.440" height="13.29"/>
<rect x="358.92" y="461.60" width="3.440" height="13.40"/>
<rect x="362.36" y="461.61" width="3.440" height="13.39"/>
<rect x="365.80" y="462.07" width="3.440" height="12.93"/>
<rect x="369.24" y="462.66" width="3.440" height="12.34"/>
<rect x="372.68" y="463.57" width="3.440" height="11.43"/>
<rect x="376.12" y="464.49" width="3.440" height="10.51"/>
<rect x="379.56" y="465.41" width="3.440" height="9.59"/>
<rect x="383.00" y="466.23" width="3.440" height="8.77"/>
<rect x="386.44" y="467.03" width="3.440" height="7.97"/>
<rect x="389.88" y="467.60" width="3.440" height="7.40"/>
<rect x="393.32" y="467.93" width="3.440" height="7.07"/>
<rect x="396.76" y="467.70" width="3.440" height="7.30"/>
<rect x="400.20" y="468.27" width="3.440" height="6.73"/>
<rect x="403.64" y="469.70" width="3.440" height="5.30"/>
<rect x="407.07" y="471.49" width="3.440" height="3.51"/>
<rect x="410.51" y="473.22" width="3.440" height="1.78"/>
<rect x="434.59" y="475.00" width="3.440" height="2.08"/>
<rect x="438.03" y="475.00" width="3.440" height="2.94"/>
<rect x="441.47" y="475.00" width="3.440" height="3.21"/>
<rect x="444.91" y="475.00" width="3.440" height="3.46"/>
<rect x="448.35" y="475.00" width="3.440" height="3.81"/>
<rect x="451.79" y="475.00" width="3.440" height="3.75"/>
<rect x="455.23" y="475.00" width="3.440" height="3.17"/>
<rect x="462.11" y="471.23" width="3.440" height="3.77"/>
<rect x="465.55" y="467.19" width="3.440" height="7.81"/>
<rect x="468.99" y="462.75" width="3.440" height="12.25"/>
<rect x="472.43" y="461.50" width="3.440" height="13.50"/>
<rect x="475.87" y="459.27" width="3.440" height="15.73"/>
<rect x="479.31" y="457.58" width="3.440" height="17.42"/>
<rect x="482.75" y="455.06" width="3.440" height="19.94"/>
<rect x="486.19" y="451.11" width="3.440" height="23.89"/>
<rect x="489.63" y="447.74" width="3.440" height="27.26"/>
<rect x="493.07" y="445.16" width="3.440" height="29.84"/>
<rect x="496.51" y="442.85" width="3.440" height="32.15"/>
<rect x="499.95" y="440.62" width="3.440" height="34.38"/>
<rect x="503.39" y="438.38" width="3.440" height="36.62"/>
<rect x="506.83" y="437.69" width="3.440" height="37.31"/>
<rect x="510.27" y="437.60" width="3.440" height="37.40"/>
<rect x="513.71" y="437.60" width="3.440" height="37.40"/>
<rect x="517.15" y="438.94" width="3.440" height="36.06"/>
<rect x="520.58" y="441.26" width="3.440" height="33.74"/>
<rect x="524.02" y="444.18" width="3.440" height="30.82"/>
<rect x="527.46" y="448.11" width="3.440" height="26.89"/>
<rect x="530.90" y="450.17" width="3.440" height="24.83"/>
<rect x="534.34" y="453.04" width="3.440" height="21.96"/>
<rect x="537.78" y="455.28" width="3.440" height="19.72"/>
<rect x="541.22" y="457.56" width="3.440" height="17.44"/>
<rect x="544.66" y="458.78" width="3.440" height="16.22"/>
<rect x="548.10" y="460.32" width="3.440" height="14.68"/>
<rect x="551.54" y="461.38" width="3.440" height="13.62"/>
<rect x="554.98" y="462.86" width="3.440" height="12.14"/>
<rect x="558.42" y="464.46" width="3.440" height="10.54"/>
<rect x="561.86" y="465.83" width="3.440" height="9.17"/>
<rect x="565.30" y="467.21" width="3.440" height="7.79"/>
<rect x="568.74" y="468.26" width="3.440" height="6.74"/>
<rect x="572.18" y="469.95" width="3.440" height="5.05"/>
<rect x="575.62" y="470.89" width="3.440" height="4.11"/>
<rect x="579.06" y="470.00" width="3.440" height="5.00"/>
<rect x="582.50" y="470.00" width="3.440" height="5.00"/>
<rect x="585.94" y="470.00" width="3.440" height="5.00"/>
<rect x="589.38" y="470.00" width="3.440" height="5.00"/>
<rect x="592.82" y="470.00" width="3.440" height="5.00"/>
<rect x="596.26" y="470.33" width="3.440" height="4.67"/>
<rect x="599.70" y="470.90" width="3.440" height="4.10"/>
<rect x="603.14" y="471.71" width="3.440" height="3.29"/>
<rect x="606.58" y="472.57" width="3.440" height="2.43"/>
<rect x="610.02" y="473.43" width="3.440" height="1.57"/>
<rect x="623.78" y="475.00" width="3.440" height="1.88"/>
<rect x="627.22" y="475.00" width="3.440" height="3.91"/>
<rect x="630.66" y="475.00" width="3.440" height="4.92"/>
<rect x="634.09" y="475.00" width="3.440" height="5.38"/>
<rect x="637.53" y="475.00" width="3.440" height="5.73"/>
<rect x="640.97" y="475.00" width="3.440" height="5.83"/>
<rect x="644.41" y="475.00" width="3.440" height="4.98"/>
<rect x="647.85" y="475.00" width="3.440" height="4.40"/>
<rect x="651.29" y="475.00" width="3.440" height="3.65"/>
<rect x="654.73" y="475.00" width="3.440" height="2.42"/>
<rect x="665.05" y="472.73" width="3.440" height="2.27"/>
<rect x="668.49" y="471.54" width="3.440" height="3.46"/>
<rect x="671.93" y="470.50" width="3.440" height="4.50"/>
<rect x="675.37" y="469.60" width="3.440" height="5.40"/>
<rect x="678.81" y="469.65" width="3.440" height="5.35"/>
<rect x="682.25" y="470.00" width="3.440" height="5.00"/>
<rect x="685.69" y="470.70" width="3.440" height="4.30"/>
<rect x="689.13" y="471.56" width="3.440" height="3.44"/>
<rect x="692.57" y="472.07" width="3.440" height="2.93"/>
<rect x="696.01" y="472.93" width="3.440" height="2.07"/>
<rect x="747.61" y="473.40" width="3.440" height="1.60"/>
<rect x="751.04" y="472.81" width="3.440" height="2.19"/>
<rect x="754.48" y="471.97" width="3.440" height="3.03"/>
<rect x="757.92" y="471.45" width="3.440" height="3.55"/>
<rect x="761.36" y="470.59" width="3.440" height="4.41"/>
<rect x="764.80" y="470.07" width="3.440" height="4.93"/>
<rect x="768.24" y="469.41" width="3.440" height="5.59"/>
<rect x="771.68" y="468.42" width="3.440" height="6.58"/>
<rect x="775.12" y="467.00" width="3.440" height="8.00"/>
<rect x="778.56" y="467.00" width="3.440" height="8.00"/>
<rect x="782.00" y="475.00" width="3.440" height="6.00"/>
</g>
<g fill="#4c4c4c">
<rect x="1.89" y="473.90" width="2.05" height="1.10"/>
<rect x="5.32" y="473.90" width="2.05" height="1.10"/>
<rect x="8.76" y="473.90" width="2.05" height="1.10"/>
<rect x="12.20" y="473.90" width="2.05" height="1.10"/>
<rect x="15.64" y="473.90" width="2.05" height="1.10"/>
<rect x="19.08" y="473.90" width="2.05" height="1.10"/>
<rect x="22.52" y="473.90" width="2.05" height="1.10"/>
<rect x="25.96" y="473.90" width="2.05" height="1.10"/>
<rect x="29.40" y="473.90" width="2.05" height="1.10"/>
<rect x="32.84" y="473.67" width="2.05" height="1.33"/>
<rect x="36.28" y="472.00" width="2.05" height="3.00"/>
<rect x="39.72" y="469.98" width="2.05" height="5.02"/>
<rect x="43.16" y="468.73" width="2.05" height="6.27"/>
<rect x="46.60" y="468.10" width="2.05" height="6.90"/>
<rect x="50.04" y="468.11" width="2.05" height="6.89"/>
<rect x="53.48" y="468.40" width="2.05" height="6.60"/>
<rect x="56.92" y="469.61" width="2.05" height="5.39"/>
<rect x="60.36" y="470.65" width="2.05" height="4.35"/>
<rect x="63.80" y="472.51" width="2.05" height="2.49"/>
<rect x="67.24" y="474.05" width="2.05" height="0.95"/>
<rect x="70.68" y="475.00" width="2.05" height="1.59"/>
<rect x="74.12" y="475.00" width="2.05" height="4.61"/>
<rect x="77.56" y="475.00" width="2.05" height="5.24"/>
<rect x="81.00" y="475.00" width="2.05" height="7.01"/>
<rect x="84.44" y="475.00" width="2.05" height="9.03"/>
<rect x="87.88" y="475.00" width="2.05" height="10.80"/>
<rect x="91.32" y="475.00" width="2.05" height="12.41"/>
<rect x="94.76" y="475.00" width="2.05" height="13.01"/>
<rect x="98.20" y="475.00" width="2.05" height="13.61"/>
<rect x="101.64" y="475.00" width="2.05" height="14.01"/>
<rect x="105.08" y="475.00" width="2.05" height="14.43"/>
<rect x="108.52" y="475.00" width="2.05" height="15.54"/>
<rect x="111.96" y="475.00" width="2.05" height="18.55"/>
<rect x="115.40" y="475.00" width="2.05" height="20.86"/>
<rect x="118.83" y="475.00" width="2.05" height="22.52"/>
<rect x="122.27" y="475.00" width="2.05" height="23.41"/>
<rect x="125.71" y="475.00" width="2.05" height="23.74"/>
<rect x="129.15" y="475.00" width="2.05" height="24.00"/>
<rect x="132.59" y="475.00" width="2.05" height="24.00"/>
<rect x="136.03" y="475.00" width="2.05" height="23.31"/>
<rect x="139.47" y="475.00" width="2.05" height="21.67"/>
<rect x="142.91" y="475.00" width="2.05" height="19.05"/>
<rect x="146.35" y="475.00" width="2.05" height="16.80"/>
<rect x="149.79" y="475.00" width="2.05" height="14.99"/>
<rect x="153.23" y="475.00" width="2.05" height="13.05"/>
<rect x="156.67" y="475.00" width="2.05" height="10.90"/>
<rect x="160.11" y="475.00" width="2.05" height="8.43"/>
<rect x="163.55" y="475.00" width="2.05" height="5.63"/>
<rect x="166.99" y="475.00" width="2.05" height="3.39"/>
<rect x="170.43" y="475.00" width="2.05" height="1.33"/>
<rect x="173.87" y="474.10" width="2.05" height="0.90"/>
<rect x="177.31" y="473.44" width="2.05" height="1.56"/>
<rect x="180.75" y="473.03" width="2.05" height="1.97"/>
<rect x="184.19" y="472.25" width="2.05" height="2.75"/>
<rect x="187.63" y="471.52" width="2.05" height="3.48"/>
<rect x="191.07" y="471.11" width="2.05" height="3.89"/>
<rect x="194.51" y="469.68" width="2.05" height="5.32"/>
<rect x="197.95" y="468.27" width="2.05" height="6.73"/>
<rect x="201.39" y="467.81" width="2.05" height="7.19"/>
<rect x="204.83" y="467.60" width="2.05" height="7.40"/>
<rect x="208.27" y="467.60" width="2.05" height="7.40"/>
<rect x="211.71" y="467.60" width="2.05" height="7.40"/>
<rect x="215.15" y="467.60" width="2.05" height="7.40"/>
<rect x="218.59" y="467.60" width="2.05" height="7.40"/>
<rect x="222.03" y="466.99" width="2.05" height="8.01"/>
<rect x="225.47" y="466.30" width="2.05" height="8.70"/>
<rect x="228.91" y="465.36" width="2.05" height="9.64"/>
<rect x="232.34" y="464.21" width="2.05" height="10.79"/>
<rect x="235.78" y="463.44" width="2.05" height="11.56"/>
<rect x="239.22" y="463.50" width="2.05" height="11.50"/>
<rect x="242.66" y="464.88" width="2.05" height="10.12"/>
<rect x="246.10" y="465.23" width="2.05" height="9.77"/>
<rect x="249.54" y="465.49" width="2.05" height="9.51"/>
<rect x="252.98" y="466.54" width="2.05" height="8.46"/>
<rect x="256.42" y="468.14" width="2.05" height="6.86"/>
<rect x="259.86" y="468.76" width="2.05" height="6.24"/>
<rect x="263.30" y="469.19" width="2.05" height="5.81"/>
<rect x="266.74" y="469.33" width="2.05" height="5.67"/>
<rect x="270.18" y="469.19" width="2.05" height="5.81"/>
<rect x="273.62" y="469.05" width="2.05" height="5.95"/>
<rect x="277.06" y="469.70" width="2.05" height="5.30"/>
<rect x="280.50" y="470.84" width="2.05" height="4.16"/>
<rect x="283.94" y="472.29" width="2.05" height="2.71"/>
<rect x="287.38" y="473.74" width="2.05" height="1.26"/>
<rect x="290.82" y="474.10" width="2.05" height="0.90"/>
<rect x="294.26" y="475.00" width="2.05" height="1.03"/>
<rect x="297.70" y="475.00" width="2.05" height="2.17"/>
<rect x="301.14" y="475.00" width="2.05" height="3.02"/>
<rect x="304.58" y="475.00" width="2.05" height="3.36"/>
<rect x="308.02" y="475.00" width="2.05" height="2.79"/>
<rect x="311.46" y="475.00" width="2.05" height="1.86"/>
<rect x="314.90" y="475.00" width="2.05" height="0.90"/>
<rect x="318.34" y="474.10" width="2.05" height="0.90"/>
<rect x="321.78" y="473.75" width="2.05" height="1.25"/>
<rect x="325.22" y="472.94" width="2.05" height="2.06"/>
<rect x="328.66" y="472.14" width="2.05" height="2.86"/>
<rect x="332.10" y="470.70" width="2.05" height="4.30"/>
<rect x="335.54" y="468.12" width="2.05" height="6.88"/>
<rect x="338.98" y="466.40" width="2.05" height="8.60"/>
<rect x="342.42" y="464.68" width="2.05" height="10.32"/>
<rect x="345.86" y="463.39" width="2.05" height="11.61"/>
<rect x="349.29" y="462.65" width="2.05" height="12.35"/>
<rect x="352.73" y="462.17" width="2.05" height="12.83"/>
<rect x="356.17" y="461.71" width="2.05" height="13.29"/>
<rect x="359.61" y="461.60" width="2.05" height="13.40"/>
<rect x="363.05" y="461.61" width="2.05" height="13.39"/>
<rect x="366.49" y="462.07" width="2.05" height="12.93"/>
<rect x="369.93" y="462.66" width="2.05" height="12.34"/>
<rect x="373.37" y="463.57" width="2.05" height="11.43"/>
<rect x="376.81" y="464.49" width="2.05" height="10.51"/>
<rect x="380.25" y="465.41" width="2.05" height="9.59"/>
<rect x="383.69" y="466.23" width="2.05" height="8.77"/>
<rect x="387.13" y="467.03" width="2.05" height="7.97"/>
<rect x="390.57" y="467.60" width="2.05" height="7.40"/>
<rect x="394.01" y="467.93" width="2.05" height="7.07"/>
<rect x="397.45" y="467.70" width="2.05" height="7.30"/>
<rect x="400.89" y="468.27" width="2.05" height="6.73"/>
<rect x="404.33" y="469.70" width="2.05" height="5.30"/>
<rect x="407.77" y="471.49" width="2.05" height="3.51"/>
<rect x="411.21" y="473.22" width="2.05" height="1.78"/>
<rect x="414.65" y="474.10" width="2.05" height="0.90"/>
<rect x="418.09" y="474.10" width="2.05" height="0.90"/>
<rect x="421.53" y="475.00" width="2.05" height="0.90"/>
<rect x="424.97" y="475.00" width="2.05" height="0.90"/>
<rect x="428.41" y="475.00" width="2.05" height="0.90"/>
<rect x="431.85" y="475.00" width="2.05" height="1.45"/>
<rect x="435.29" y="475.00" width="2.05" height="2.08"/>
<rect x="438.73" y="475.00" width="2.05" height="2.94"/>
<rect x="442.17" y="475.00" width="2.05" height="3.21"/>
<rect x="445.61" y="475.00" width="2.05" height="3.46"/>
<rect x="449.05" y="475.00" width="2.05" height="3.81"/>
<rect x="452.49" y="475.00" width="2.05" height="3.75"/>
<rect x="455.93" y="475.00" width="2.05" height="3.17"/>
<rect x="459.37" y="475.00" width="2.05" height="0.90"/>
<rect x="462.80" y="471.23" width="2.05" height="3.77"/>
<rect x="466.24" y="467.19" width="2.05" height="7.81"/>
<rect x="469.68" y="462.75" width="2.05" height="12.25"/>
<rect x="473.12" y="461.50" width="2.05" height="13.50"/>
<rect x="476.56" y="459.27" width="2.05" height="15.73"/>
<rect x="480.00" y="457.58" width="2.05" height="17.42"/>
<rect x="483.44" y="455.06" width="2.05" height="19.94"/>
<rect x="486.88" y="451.11" width="2.05" height="23.89"/>
<rect x="490.32" y="447.74" width="2.05" height="27.26"/>
<rect x="493.76" y="445.16" width="2.05" height="29.84"/>
<rect x="497.20" y="442.85" width="2.05" height="32.15"/>
<rect x="500.64" y="440.62" width="2.05" height="34.38"/>
<rect x="504.08" y="438.38" width="2.05" height="36.62"/>
<rect x="507.52" y="437.69" width="2.05" height="37.31"/>
<rect x="510.96" y="437.60" width="2.05" height="37.40"/>
<rect x="514.40" y="437.60" width="2.05" height="37.40"/>
<rect x="517.84" y="438.94" width="2.05" height="36.06"/>
<rect x="521.28" y="441.26" width="2.05" height="33.74"/>
<rect x="524.72" y="444.18" width="2.05" height="30.82"/>
<rect x="528.16" y="448.11" width="2.05" height="26.89"/>
<rect x="531.60" y="450.17" width="2.05" height="24.83"/>
<rect x="535.04" y="453.04" width="2.05" height="21.96"/>
<rect x="538.48" y="455.28" width="2.05" height="19.72"/>
<rect x="541.92" y="457.56" width="2.05" height="17.44"/>
<rect x="545.36" y="458.78" width="2.05" height="16.22"/>
<rect x="548.80" y="460.32" width="2.05" height="14.68"/>
<rect x="552.24" y="461.38" width="2.05" height="13.62"/>
<rect x="555.68" y="462.86" width="2.05" height="12.14"/>
<rect x="559.12" y="464.46" width="2.05" height="10.54"/>
<rect x="562.56" y="465.83" width="2.05" height="9.17"/>
<rect x="566.00" y="467.21" width="2.05" height="7.79"/>
<rect x="569.44" y="468.26" width="2.05" height="6.74"/>
<rect x="572.88" y="469.95" width="2.05" height="5.05"/>
<rect x="576.31" y="470.89" width="2.05" height="4.11"/>
<rect x="579.75" y="470.00" width="2.05" height="5.00"/>
<rect x="583.19" y="470.00" width="2.05" height="5.00"/>
<rect x="586.63" y="470.00" width="2.05" height="5.00"/>
<rect x="590.07" y="470.00" width="2.05" height="5.00"/>
<rect x="593.51" y="470.00" width="2.05" height="5.00"/>
<rect x="596.95" y="470.33" width="2.05" height="4.67"/>
<rect x="600.39" y="470.90" width="2.05" height="4.10"/>
<rect x="603.83" y="471.71" width="2.05" height="3.29"/>
<rect x="607.27" y="472.57" width="2.05" height="2.43"/>
<rect x="610.71" y="473.43" width="2.05" height="1.57"/>
<rect x="614.15" y="474.10" width="2.05" height="0.90"/>
<rect x="617.59" y="475.00" width="2.05" height="0.90"/>
<rect x="621.03" y="475.00" width="2.05" height="1.08"/>
<rect x="624.47" y="475.00" width="2.05" height="1.88"/>
<rect x="627.91" y="475.00" width="2.05" height="3.91"/>
<rect x="631.35" y="475.00" width="2.05" height="4.92"/>
<rect x="634.79" y="475.00" width="2.05" height="5.38"/>
<rect x="638.23" y="475.00" width="2.05" height="5.73"/>
<rect x="641.67" y="475.00" width="2.05" height="5.83"/>
<rect x="645.11" y="475.00" width="2.05" height="4.98"/>
<rect x="648.55" y="475.00" width="2.05" height="4.40"/>
<rect x="651.99" y="475.00" width="2.05" height="3.65"/>
<rect x="655.43" y="475.00" width="2.05" height="2.42"/>
<rect x="658.87" y="475.00" width="2.05" height="1.04"/>
<rect x="662.31" y="473.89" width="2.05" height="1.11"/>
<rect x="665.75" y="472.73" width="2.05" height="2.27"/>
<rect x="669.19" y="471.54" width="2.05" height="3.46"/>
<rect x="672.63" y="470.50" width="2.05" height="4.50"/>
<rect x="676.07" y="469.60" width="2.05" height="5.40"/>
<rect x="679.51" y="469.65" width="2.05" height="5.35"/>
<rect x="682.95" y="470.00" width="2.05" height="5.00"/>
<rect x="686.39" y="470.70" width="2.05" height="4.30"/>
<rect x="689.83" y="471.56" width="2.05" height="3.44"/>
<rect x="693.26" y="472.07" width="2.05" height="2.93"/>
<rect x="696.70" y="472.93" width="2.05" height="2.07"/>
<rect x="700.14" y="473.79" width="2.05" height="1.21"/>
<rect x="703.58" y="474.10" width="2.05" height="0.90"/>
<rect x="707.02" y="474.10" width="2.05" height="0.90"/>
<rect x="710.46" y="474.10" width="2.05" height="0.90"/>
<rect x="713.90" y="474.10" width="2.05" height="0.90"/>
<rect x="717.34" y="474.10" width="2.05" height="0.90"/>
<rect x="720.78" y="474.10" width="2.05" height="0.90"/>
<rect x="724.22" y="474.10" width="2.05" height="0.90"/>
<rect x="727.66" y="474.10" width="2.05" height="0.90"/>
<rect x="731.10" y="474.10" width="2.05" height="0.90"/>
<rect x="734.54" y="474.09" width="2.05" height="0.91"/>
<rect x="737.98" y="474.02" width="2.05" height="0.98"/>
<rect x="741.42" y="473.88" width="2.05" height="1.12"/>
<rect x="744.86" y="473.71" width="2.05" height="1.29"/>
<rect x="748.30" y="473.40" width="2.05" height="1.60"/>
<rect x="751.74" y="472.81" width="2.05" height="2.19"/>
<rect x="755.18" y="471.97" width="2.05" height="3.03"/>
<rect x="758.62" y="471.45" width="2.05" height="3.55"/>
<rect x="762.06" y="470.59" width="2.05" height="4.41"/>
<rect x="765.50" y="470.07" width="2.05" height="4.93"/>
<rect x="768.94" y="469.41" width="2.05" height="5.59"/>
<rect x="772.38" y="468.42" width="2.05" height="6.58"/>
<rect x="775.82" y="467.00" width="2.05" height="8.00"/>
<rect x="779.26" y="467.00" width="2.05" height="8.00"/>
<rect x="782.70" y="475.00" width="2.05" height="6.00"/>
</g>
<polyline points="2.5,469.4 12.5,472.2 25.0,473.8 37.5,473.5 50.0,470.6 60.0,469.6 70.0,470.0 80.0,473.5 87.5,477.5 100.0,483.0 110.0,486.0 120.0,491.0 130.0,494.4 140.0,497.0 146.0,497.0 156.0,494.0 166.0,489.0 176.0,482.0 184.0,477.0 192.0,474.0 200.0,471.0 212.0,468.6 224.0,467.6 236.0,465.6 248.0,465.0 260.0,466.0 272.0,468.0 284.0,470.0 300.0,473.0 308.0,475.0 320.0,475.6 330.0,474.4 340.0,472.0 350.0,468.0 360.0,464.0 370.0,462.4 380.0,462.6 390.0,463.6 400.0,465.0 410.0,467.6 420.0,471.0 430.0,473.6 440.0,475.6 450.0,477.0 460.0,477.6 466.0,476.4 472.0,473.0 480.0,467.0 488.0,462.0 496.0,455.0 504.0,449.0 512.0,444.4 520.0,441.0 526.0,440.0 532.0,442.0 540.0,445.6 548.0,450.4 556.0,456.0 564.0,460.0 572.0,464.0 580.0,467.0 588.0,469.0 596.0,470.0 604.0,471.0 612.0,471.6 620.0,473.0 628.0,475.0 636.0,477.0 644.0,478.6 652.0,479.4 658.0,479.4 664.0,478.0 672.0,476.0 680.0,473.6 684.0,472.0 692.0,470.6 700.0,470.4 708.0,471.6 716.0,473.4 724.0,474.4 740.0,474.4 750.0,474.0 760.0,473.0 768.0,472.0 776.0,471.0 780.0,469.0 784.0,470.4" fill="none" stroke="#FF0000" stroke-width="1" stroke-dasharray="2.8 2.8"/>
<g fill="none" stroke="#383838" stroke-width="1.4">
<path d="M2.35 431.45 V2.4 H965.9 V502"/>
<path d="M2.35 431.45 H965.9"/>
<path d="M965.9 433.6 H2.35 V501.9 H965.9"/>
</g>
<g stroke="#383838" stroke-width="1">
<line x1="966" y1="17.50" x2="968.4" y2="17.50"/>
<line x1="966" y1="46.75" x2="968.4" y2="46.75"/>
<line x1="966" y1="76.00" x2="968.4" y2="76.00"/>
<line x1="966" y1="105.25" x2="968.4" y2="105.25"/>
<line x1="966" y1="134.50" x2="968.4" y2="134.50"/>
<line x1="966" y1="163.75" x2="968.4" y2="163.75"/>
<line x1="966" y1="193.00" x2="968.4" y2="193.00"/>
<line x1="966" y1="222.25" x2="968.4" y2="222.25"/>
<line x1="966" y1="251.50" x2="968.4" y2="251.50"/>
<line x1="966" y1="280.75" x2="968.4" y2="280.75"/>
<line x1="966" y1="310.00" x2="968.4" y2="310.00"/>
<line x1="966" y1="339.25" x2="968.4" y2="339.25"/>
<line x1="966" y1="368.50" x2="968.4" y2="368.50"/>
<line x1="966" y1="397.75" x2="968.4" y2="397.75"/>
<line x1="966" y1="427.00" x2="968.4" y2="427.00"/>
<line x1="966" y1="475.5" x2="968.4" y2="475.5"/>
<line x1="2.51" y1="502" x2="2.51" y2="505.3"/>
<line x1="57.55" y1="502" x2="57.55" y2="505.3"/>
<line x1="112.58" y1="502" x2="112.58" y2="505.3"/>
<line x1="167.62" y1="502" x2="167.62" y2="505.3"/>
<line x1="222.65" y1="502" x2="222.65" y2="505.3"/>
<line x1="277.69" y1="502" x2="277.69" y2="505.3"/>
<line x1="332.72" y1="502" x2="332.72" y2="505.3"/>
<line x1="387.76" y1="502" x2="387.76" y2="505.3"/>
<line x1="442.79" y1="502" x2="442.79" y2="505.3"/>
<line x1="497.83" y1="502" x2="497.83" y2="505.3"/>
<line x1="552.86" y1="502" x2="552.86" y2="505.3"/>
<line x1="607.90" y1="502" x2="607.90" y2="505.3"/>
<line x1="662.93" y1="502" x2="662.93" y2="505.3"/>
<line x1="717.97" y1="502" x2="717.97" y2="505.3"/>
<line x1="773.00" y1="502" x2="773.00" y2="505.3"/>
</g>
<text transform="translate(970.80,20.30) scale(1,1)" font-size="8">111.95</text>
<text transform="translate(970.80,49.55) scale(1,1)" font-size="8">111.65</text>
<text transform="translate(970.80,78.80) scale(1,1)" font-size="8">111.35</text>
<text transform="translate(970.80,108.05) scale(1,1)" font-size="8">111.05</text>
<text transform="translate(970.80,137.30) scale(1,1)" font-size="8">110.75</text>
<text transform="translate(970.80,166.55) scale(1,1)" font-size="8">110.45</text>
<text transform="translate(970.80,195.80) scale(1,1)" font-size="8">110.15</text>
<text transform="translate(970.80,225.05) scale(1,1)" font-size="8">109.85</text>
<text transform="translate(970.80,254.30) scale(1,1)" font-size="8">109.55</text>
<text transform="translate(970.80,283.55) scale(1,1)" font-size="8">109.25</text>
<text transform="translate(970.80,312.80) scale(1,1)" font-size="8">108.95</text>
<text transform="translate(970.80,342.05) scale(1,1)" font-size="8">108.65</text>
<text transform="translate(970.80,371.30) scale(1,1)" font-size="8">108.35</text>
<text transform="translate(970.80,400.55) scale(1,1)" font-size="8">108.05</text>
<text transform="translate(970.80,429.80) scale(1,1)" font-size="8">107.75</text>
<text transform="translate(969.60,443.20) scale(1,1)" font-size="8">0.59</text>
<text transform="translate(969.60,478.90) scale(1,1)" font-size="8">0.00</text>
<text transform="translate(969.60,498.70) scale(1,1)" font-size="8">-0.373</text>
<rect x="967" y="27.6" width="31.2" height="8.6" fill="#FF0000"/>
<text transform="translate(970.80,34.75) scale(1,1)" font-size="8" style="fill:#fff;stroke:#fff">111.80</text>
<rect x="967" y="283.2" width="31.2" height="8.6" fill="#000"/>
<text transform="translate(970.80,290.25) scale(1,1)" font-size="8" style="fill:#fff;stroke:#fff">109.18</text>
<path d="M4.9 7.6 H11.2 L8.05 11.3 Z" fill="#000"/>
<text transform="translate(15.90,12.10) scale(1,1)" font-size="8">USDJPY,H1&#160;&#160;111.68 111.70 108.76 109.18</text>
<text transform="translate(6.20,443.75) scale(1,1)" font-size="8">MACD(12,26,9) -0.069 0.072</text>
<text transform="translate(2.31,513.20) scale(1,1)" font-size="8">14 Apr 2016</text>
<text transform="translate(57.35,513.20) scale(1,1)" font-size="8">15 Apr 08:00</text>
<text transform="translate(112.38,513.20) scale(1,1)" font-size="8">18 Apr 01:00</text>
<text transform="translate(167.42,513.20) scale(1,1)" font-size="8">18 Apr 17:00</text>
<text transform="translate(222.45,513.20) scale(1,1)" font-size="8">19 Apr 09:00</text>
<text transform="translate(277.49,513.20) scale(1,1)" font-size="8">20 Apr 01:00</text>
<text transform="translate(332.52,513.20) scale(1,1)" font-size="8">20 Apr 17:00</text>
<text transform="translate(387.56,513.20) scale(1,1)" font-size="8">21 Apr 09:00</text>
<text transform="translate(442.59,513.20) scale(1,1)" font-size="8">22 Apr 01:00</text>
<text transform="translate(497.63,513.20) scale(1,1)" font-size="8">22 Apr 17:00</text>
<text transform="translate(552.66,513.20) scale(1,1)" font-size="8">25 Apr 10:00</text>
<text transform="translate(607.70,513.20) scale(1,1)" font-size="8">26 Apr 02:00</text>
<text transform="translate(662.73,513.20) scale(1,1)" font-size="8">26 Apr 18:00</text>
<text transform="translate(717.77,513.20) scale(1,1)" font-size="8">27 Apr 10:00</text>
<text transform="translate(772.80,513.20) scale(1,1)" font-size="8">28 Apr 02:00</text>
</svg></body></html>
